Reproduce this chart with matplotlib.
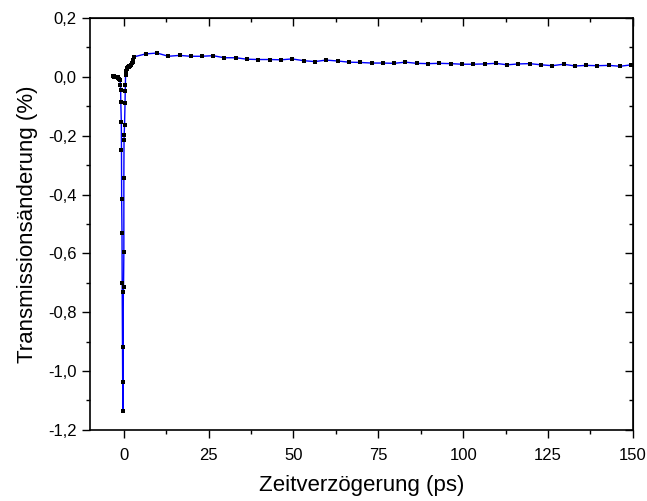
import matplotlib
matplotlib.use("Agg")
from matplotlib import pyplot as plt
from matplotlib import ticker

# delay (ps) and transmission change (%)
delay = [-3.2, -3.0, -2.8, -2.6, -2.4, -2.2, -2.0, -1.8, -1.6, -1.4, -1.2,
         -1.1, -1.0, -0.95, -0.9, -0.75, -0.7, -0.65, -0.55, -0.5, -0.4, -0.35, -0.3,
         -0.15, -0.1, 0.0, 0.0, 0.05, 0.1, 0.2, 0.35, 0.4, 0.45,
         0.5, 0.6, 0.8, 1.0, 1.2, 1.4, 1.6, 1.8, 2.0, 2.2, 2.4, 2.6, 2.8, 3.0,
         6.4, 9.8, 13.1, 16.4, 19.7, 22.9, 26.3, 29.6, 33.0, 36.3, 39.6, 43.0,
         46.3, 49.6, 53.0, 56.3, 59.6, 63.0, 66.3, 69.6, 73.0, 76.3, 79.6, 83.0,
         86.3, 89.6, 93.0, 96.3, 99.6, 103.0, 106.3, 109.6, 113.0, 116.3, 119.6,
         123.0, 126.3, 129.6, 133.0, 136.3, 139.6, 143.0, 146.3, 149.6]
change = [0.002, 0.002, 0.001, 0.001, 0.000, 0.001, -0.001, -0.002, -0.004, -0.007, -0.009,
          -0.012, -0.026, -0.045, -0.086, -0.154, -0.25, -0.416, -0.531, -0.701, -0.92, -1.036, -1.137,
          -0.731, -0.714, -0.597, -0.345, -0.215, -0.196, -0.163, -0.088, -0.049, -0.029,
          0.008, 0.02, 0.027, 0.031, 0.033, 0.034, 0.037, 0.036, 0.040, 0.042, 0.047, 0.050, 0.058, 0.068,
          0.078, 0.081, 0.070, 0.073, 0.070, 0.070, 0.072, 0.065, 0.065, 0.060, 0.059, 0.059,
          0.058, 0.061, 0.055, 0.052, 0.057, 0.054, 0.050, 0.049, 0.047, 0.047, 0.046, 0.050,
          0.046, 0.045, 0.046, 0.045, 0.043, 0.043, 0.044, 0.046, 0.041, 0.044, 0.045,
          0.041, 0.038, 0.043, 0.037, 0.039, 0.038, 0.039, 0.036, 0.041]

plt.rcParams['font.family'] = ['Liberation Sans', 'DejaVu Sans']

fig = plt.figure(figsize=(6.47, 5.01), dpi=100)
ax = fig.add_axes([0.139, 0.142, 0.839, 0.822])

ax.plot(delay, change, '-', color='#0000ff', lw=1.0, zorder=2)
ax.plot(delay, change, 's', color='black', ms=2.5, mew=0, zorder=3)

ax.set_xlim(-10, 150)
ax.set_ylim(-1.2, 0.2)
ax.xaxis.set_major_locator(ticker.MultipleLocator(25))
ax.xaxis.set_minor_locator(ticker.MultipleLocator(12.5))
ax.yaxis.set_major_locator(ticker.MultipleLocator(0.2))
ax.yaxis.set_minor_locator(ticker.MultipleLocator(0.1))
ax.yaxis.set_major_formatter(ticker.FuncFormatter(lambda v, p: ("%.1f" % v).replace('.', ',').replace('-0,0', '0,0')))

ax.tick_params(which='both', direction='out', width=1.0, labelsize=12, top=False, right=False)
ax.tick_params(which='major', length=6)
ax.tick_params(which='minor', length=3)
ax.tick_params(axis='x', pad=7)

# inward ticks on top and right
sec_x = ax.secondary_xaxis('top')
sec_x.xaxis.set_major_locator(ticker.MultipleLocator(25))
sec_x.xaxis.set_minor_locator(ticker.MultipleLocator(12.5))
sec_x.tick_params(which='both', direction='in', labeltop=False, width=1.0)
sec_x.tick_params(which='major', length=6)
sec_x.tick_params(which='minor', length=3)
sec_y = ax.secondary_yaxis('right')
sec_y.yaxis.set_major_locator(ticker.MultipleLocator(0.2))
sec_y.yaxis.set_minor_locator(ticker.MultipleLocator(0.1))
sec_y.tick_params(which='both', direction='in', labelright=False, width=1.0)
sec_y.tick_params(which='major', length=6)
sec_y.tick_params(which='minor', length=3)

for s in ax.spines.values():
    s.set_linewidth(1.2)

ax.set_xlabel('Zeitverzögerung (ps)', fontsize=16, labelpad=9)
ax.set_ylabel('Transmissionsänderung (%)', fontsize=16, labelpad=7)

fig.savefig('out.png', dpi=100)
